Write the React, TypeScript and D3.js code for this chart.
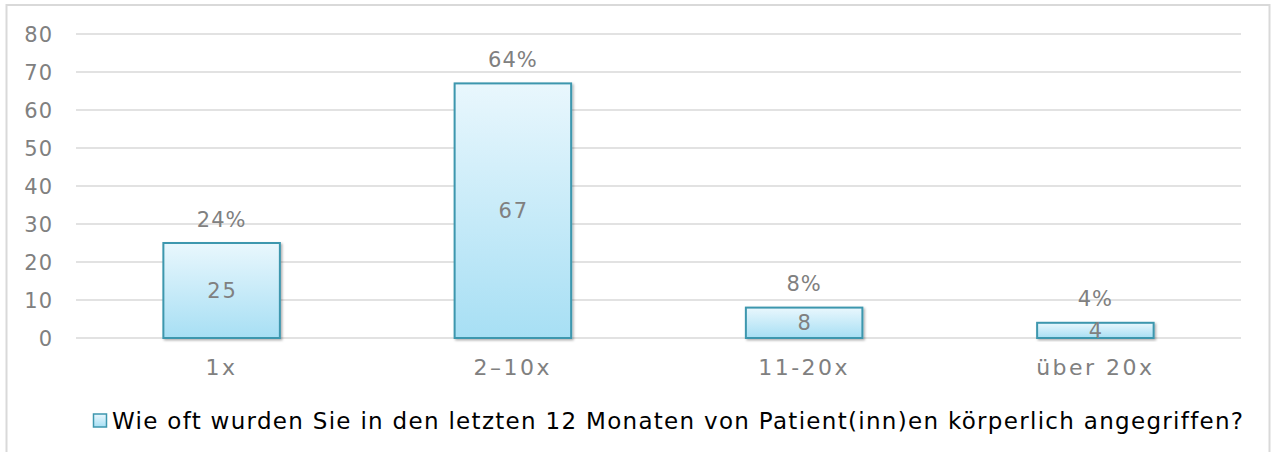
import React from "react";
import * as d3 from "d3";

const categories = ["1x", "2–10x", "11-20x", "über 20x"];
const values = [25, 67, 8, 4];
const percents = ["24%", "64%", "8%", "4%"];
const yTicks = [0, 10, 20, 30, 40, 50, 60, 70, 80];
const legendLabel = "Wie oft wurden Sie in den letzten 12 Monaten von Patient(inn)en körperlich angegriffen?";

const W = 1272;
const H = 452;
const FONT = "'DejaVu Sans', Verdana, sans-serif";

export default function App() {
  const x = d3.scaleBand<string>().domain(categories).range([76, 1241]).paddingInner(0.6).paddingOuter(0.3);
  const y = d3.scaleLinear().domain([0, 80]).range([338, 34]);
  return (
    <svg width={W} height={H} style={{ position: "absolute", left: 0, top: 0 }} fontFamily={FONT}>
      <defs>
        <linearGradient id="barGrad" x1="0" y1="0" x2="0" y2="1">
          <stop offset="0" stopColor="#e9f7fd" />
          <stop offset="1" stopColor="#a7dff4" />
        </linearGradient>
        <filter id="shadow" x="-10%" y="-10%" width="130%" height="130%">
          <feDropShadow dx="1.5" dy="1.5" stdDeviation="1.2" floodColor="#000" floodOpacity="0.3" />
        </filter>
      </defs>
      <rect x={0} y={0} width={W} height={H} fill="#fff" />
      <rect x={6.5} y={5} width={1263} height={460} fill="none" stroke="#d9d9d9" strokeWidth={2} />
      {yTicks.map((t) => (
        <g key={t}>
          <line x1={76} x2={1241} y1={y(t)} y2={y(t)} stroke="#d9d9d9" strokeWidth={1.5} />
          <text x={53} y={y(t)} dy="0.36em" textAnchor="end" fontSize={21} letterSpacing={1} fill="#808080">
            {t}
          </text>
        </g>
      ))}
      {categories.map((c, i) => {
        const bx = x(c)!;
        const bw = x.bandwidth();
        const top = y(values[i]);
        const cx = bx + bw / 2;
        return (
          <g key={c}>
            <rect
              x={bx}
              y={top}
              width={bw}
              height={y(0) - top}
              fill="url(#barGrad)"
              stroke="#3e97ae"
              strokeWidth={2}
              filter="url(#shadow)"
            />
            <text x={cx + 1} y={(top + y(0)) / 2} dy="0.36em" textAnchor="middle" fontSize={21} letterSpacing={2} fill="#808080">
              {values[i]}
            </text>
            <text x={cx} y={top - 24} dy="0.36em" textAnchor="middle" fontSize={21} letterSpacing={1} fill="#808080">
              {percents[i]}
            </text>
            <text x={cx} y={367} dy="0.36em" textAnchor="middle" fontSize={22} letterSpacing={2.5} fill="#808080">
              {c}
            </text>
          </g>
        );
      })}
      <rect x={93.5} y={414} width={13} height={13} fill="url(#barGrad)" stroke="#3e97ae" strokeWidth={1.5} />
      <text x={112} y={421} dy="0.36em" fontSize={23} letterSpacing={1.3} fill="#000">
        {legendLabel}
      </text>
    </svg>
  );
}
